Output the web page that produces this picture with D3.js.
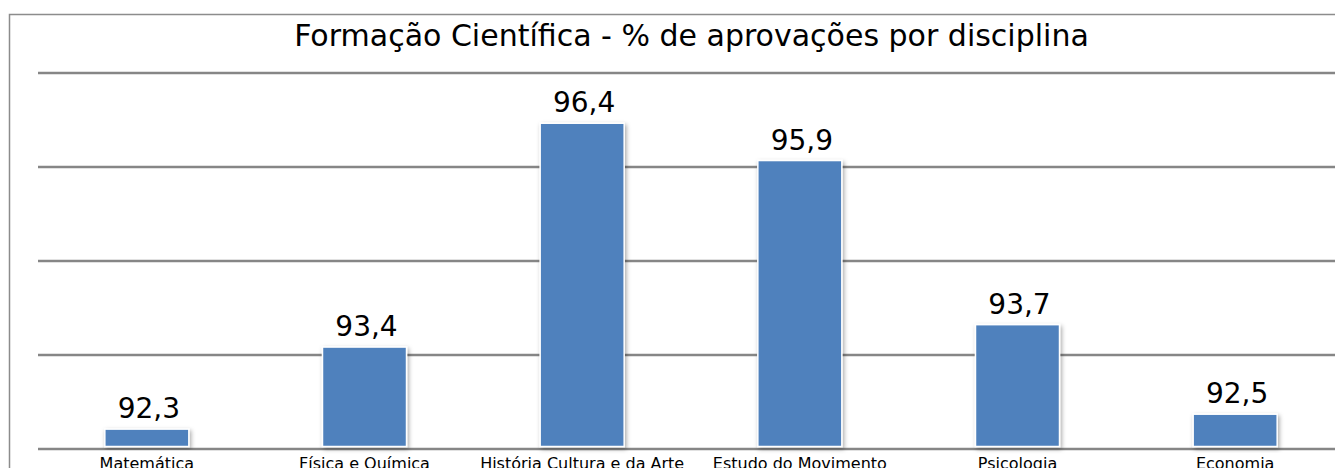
<!DOCTYPE html>
<html>
<head>
<meta charset="utf-8">
<script src="https://cdn.jsdelivr.net/npm/d3@7"></script>
<style>
    body { margin: 0; background: #fff; }
    svg { display: block; }
    text { font-family: "DejaVu Sans", Verdana, sans-serif; fill: #000; }
</style>
</head>
<body>
<div id="chart"></div>
<script>
const title = 'Formação Científica - % de aprovações por disciplina';
const disciplinas = ['Matemática', 'Física e Química', 'História Cultura e da Arte', 'Estudo do Movimento', 'Psicologia', 'Economia'];
const aprovacoes = [92.3, 93.4, 96.4, 95.9, 93.7, 92.5];
const yMin = 92.04;
const yMax = 97.08;

const width = 1335;
const height = 468;
const plot = { left: 38, right: 1344, top: 72.5, bottom: 448.5 };

const svg = d3.select('#chart')
    .append('svg')
    .attr('width', width)
    .attr('height', height);

const defs = svg.append('defs');
const shadow = defs.append('filter')
    .attr('id', 'shadow')
    .attr('x', '-20%').attr('y', '-20%')
    .attr('width', '140%').attr('height', '140%');
shadow.append('feDropShadow')
    .attr('dx', 1.5).attr('dy', 2)
    .attr('stdDeviation', 2)
    .attr('flood-color', '#000')
    .attr('flood-opacity', 0.35);

// outer frame of the chart
svg.append('rect')
    .attr('x', 9.5)
    .attr('y', 14.5)
    .attr('width', 1400)
    .attr('height', 500)
    .attr('fill', 'none')
    .attr('stroke', '#8c8c8c')
    .attr('stroke-width', 1.5);

const xScale = d3.scaleBand()
    .domain(disciplinas)
    .range([plot.left, plot.right])
    .paddingInner(0.614)
    .paddingOuter(0.307);

const yScale = d3.scaleLinear()
    .domain([yMin, yMax])
    .range([plot.bottom, plot.top]);

// gridlines
const gridValues = d3.range(5).map(i => yMin + i * (yMax - yMin) / 4);
svg.append('g')
    .attr('transform', `translate(${plot.left}, 0)`)
    .call(d3.axisLeft(yScale).tickValues(gridValues).tickSize(-(width - plot.left)).tickFormat(''))
    .call(g => g.select('.domain').remove())
    .call(g => g.selectAll('.tick line')
        .attr('stroke', '#868686')
        .attr('stroke-width', 2.4));

// bars
svg.selectAll('.bar')
    .data(aprovacoes)
    .enter().append('rect')
    .attr('class', 'bar')
    .attr('x', (d, i) => xScale(disciplinas[i]))
    .attr('y', d => yScale(d))
    .attr('width', xScale.bandwidth())
    .attr('height', d => yScale(yMin) - yScale(d) - 2)
    .attr('fill', '#4f81bd')
    .attr('stroke', '#fff')
    .attr('stroke-width', 1.5)
    .attr('filter', 'url(#shadow)');

// value labels
const fmt = d3.formatLocale({ decimal: ',', thousands: '.', grouping: [3], currency: ['', '€'] }).format('.1f');
svg.selectAll('.value')
    .data(aprovacoes)
    .enter().append('text')
    .attr('class', 'value')
    .attr('x', (d, i) => xScale(disciplinas[i]) + xScale.bandwidth() / 2 + 2)
    .attr('y', d => yScale(d) - 11)
    .attr('text-anchor', 'middle')
    .style('font-size', '28px')
    .text(d => fmt(d));

// category labels
svg.selectAll('.cat')
    .data(disciplinas)
    .enter().append('text')
    .attr('class', 'cat')
    .attr('x', d => xScale(d) + xScale.bandwidth() / 2)
    .attr('y', 469)
    .attr('text-anchor', 'middle')
    .style('font-size', '16px')
    .text(d => d);

// title
svg.append('text')
    .attr('x', 691.5)
    .attr('y', 46)
    .attr('text-anchor', 'middle')
    .style('font-size', '30px')
    .text(title);
</script>
</body>
</html>
